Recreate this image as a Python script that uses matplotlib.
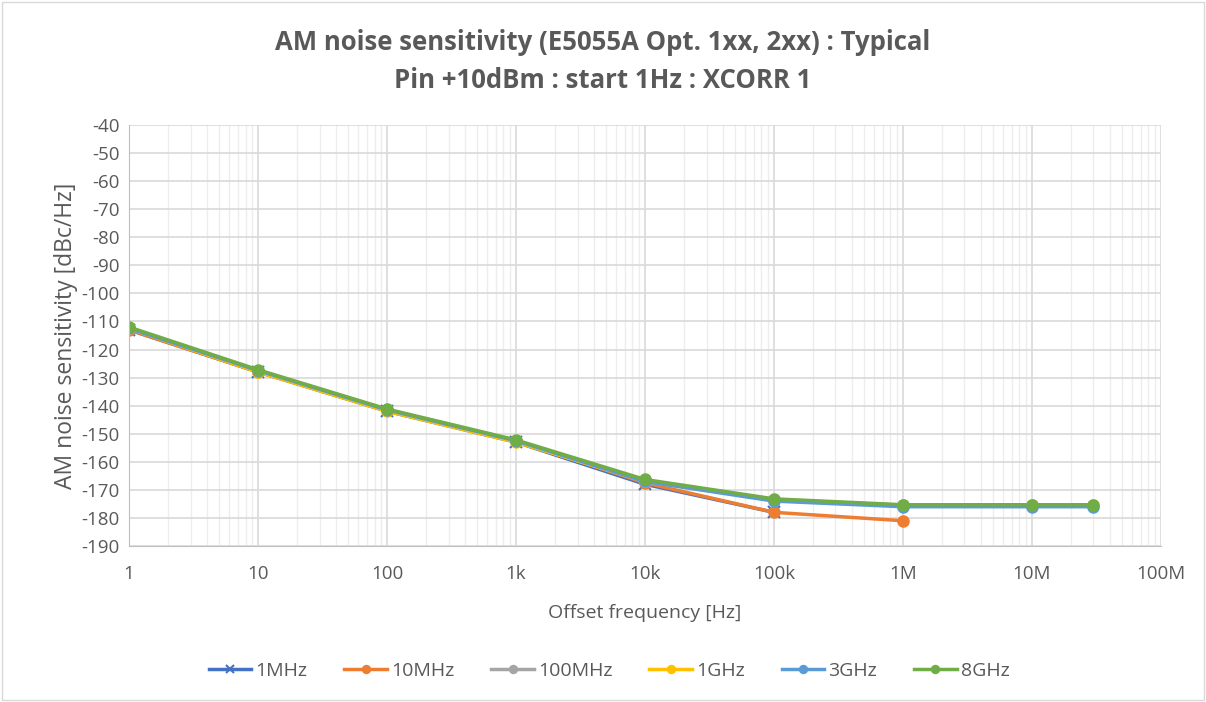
import numpy as np
import matplotlib.pyplot as plt
from matplotlib.ticker import LogLocator, NullFormatter

plt.rcParams['font.family'] = ['Open Sans', 'DejaVu Sans']
plt.rcParams['axes.unicode_minus'] = False

# Offset frequency points [Hz]
freq = [1, 10, 100, 1e3, 1e4, 1e5, 1e6, 1e7, 3e7]

series_names = ['1MHz', '10MHz', '100MHz', '1GHz', '3GHz', '8GHz']
values_1mhz = [-113, -128, -142, -153, -168, -178]
values_10mhz = [-113, -128, -141.5, -152.5, -167.5, -178, -181]
values_100mhz = [-112.5, -127.5, -141.5, -152.5, -167, -173.5, -175.5, -175.5]
values_1ghz = [-112.5, -128, -142, -153, -167, -173.5, -175.5, -175.5, -175.5]
values_3ghz = [-112.5, -127.5, -141.5, -152.5, -167, -174, -176, -176, -176]
values_8ghz = [-112, -127.2, -141.2, -152.2, -166.3, -173.2, -175.3, -175.3, -175.3]

all_values = [values_1mhz, values_10mhz, values_100mhz, values_1ghz, values_3ghz, values_8ghz]
colors = ['#4472C4', '#ED7D31', '#A5A5A5', '#FFC000', '#5B9BD5', '#70AD47']
markers = ['x', 'o', 'o', 'o', 'o', 'o']

xtick_vals = [1, 10, 100, 1e3, 1e4, 1e5, 1e6, 1e7, 1e8]
xtick_labels = ['1', '10', '100', '1k', '10k', '100k', '1M', '10M', '100M']
ytick_vals = list(range(-190, -39, 10))

fig = plt.figure(figsize=(12.06, 7.02), dpi=100)
ax = fig.add_axes([0.107, 0.2222, 0.8556, 0.5998])

for name, vals, c, m in zip(series_names, all_values, colors, markers):
    ax.plot(freq[:len(vals)], vals, color=c, lw=2.5, marker=m, ms=7.5 if m == 'o' else 8,
            mew=1.5, label=name)

ax.set_xscale('log')
ax.set_xlim(1, 1e8)
ax.set_ylim(-190, -40)
ax.set_xticks(xtick_vals)
ax.set_xticklabels(xtick_labels)
ax.xaxis.set_minor_locator(LogLocator(base=10, subs=np.arange(2, 10)))
ax.xaxis.set_minor_formatter(NullFormatter())
ax.set_yticks(ytick_vals)

ax.grid(which='major', color='#D9D9D9', lw=1.2)
ax.grid(which='minor', axis='x', color='#EDEDED', lw=1.0)
ax.set_axisbelow(True)
for s in ax.spines.values():
    s.set_visible(False)
ax.spines['bottom'].set_visible(True)
ax.spines['bottom'].set_color('#BFBFBF')
ax.spines['left'].set_visible(True)
ax.spines['left'].set_color('#BFBFBF')
ax.tick_params(which='both', length=0, labelsize=13.5, colors='#595959', pad=7)
ax.tick_params(axis='x', pad=14)

ax.set_xlabel('Offset frequency [Hz]', fontsize=14, color='#595959', labelpad=15)
ax.set_ylabel('AM noise sensitivity [dBc/Hz]', fontsize=16.5, color='#595959', labelpad=2)

fig.text(0.5, 0.94, 'AM noise sensitivity (E5055A Opt. 1xx, 2xx) : Typical',
         ha='center', va='center', fontsize=18.5, fontweight='bold', color='#595959')
fig.text(0.5, 0.885, 'Pin +10dBm : start 1Hz : XCORR 1',
         ha='center', va='center', fontsize=18.5, fontweight='bold', color='#595959')

fig.legend(loc='center', bbox_to_anchor=(0.505, 0.044), ncol=6, frameon=False,
           fontsize=14, labelcolor='#595959', handlelength=2.2, handletextpad=0.2,
           columnspacing=1.9, markerscale=0.7)

border = plt.Rectangle((0.002, 0.003), 0.996, 0.994, transform=fig.transFigure,
                       fill=False, ec='#D9D9D9', lw=1)
fig.patches.append(border)

fig.savefig('out.png', dpi=100)
